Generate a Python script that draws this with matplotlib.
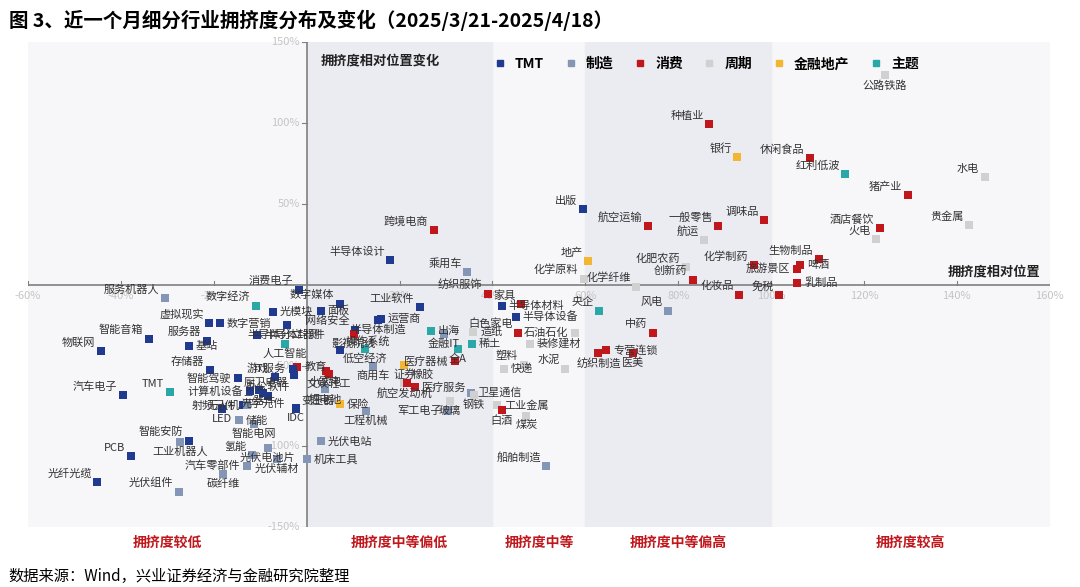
import matplotlib
matplotlib.use("Agg")
import matplotlib.pyplot as plt
from matplotlib.lines import Line2D

plt.rcParams["font.family"] = ["Noto Sans CJK SC", "DejaVu Sans"]

names = ["出版","航空运输","一般零售","调味品","航运","地产","化肥农药","化学制药","啤酒","生物制品",
 "旅游景区","乳制品","免税","化妆品","创新药","化学纤维","化学原料","央企","风电","中药","专营连锁",
 "纺织制造","医美","石油石化","白色家电","水泥","数字媒体","面板","半导体制造","网络安全","影视院线",
 "低空经济","操作系统","工业软件","运营商","金融IT","出海","造纸","全A","稀土","医疗器械","证券","商用车",
 "小家电","文娱轻工","航空发动机","医疗服务","玻璃","军工电子","卫星通信","钢铁","快递","塑料","装修建材",
 "工业金属","白酒","煤炭","船舶制造","保险","工程机械","锂电池","IDC","光伏电站","机床工具","纺织服饰",
 "半导体材料","家具","半导体设备","乘用车","消费电子","服务机器人","数字经济","光模块","半导体分立器件",
 "虚拟现实","半导体封测","服务器","人工智能","智能音箱","基站","物联网","教育","IT服务","游戏","存储器",
 "TMT","汽车电子","计算机设备","元器件","光学元件","厨卫电器","智能驾驶","射频元件","无人机","LED","变压器",
 "智能电网","储能","光伏电池片","氢能","光伏辅材","汽车零部件","工业机器人","智能安防","PCB","光纤光缆",
 "碳纤维","光伏组件","跨境电商","半导体设计","种植业","银行","休闲食品","红利低波","公路铁路","水电",
 "猪产业","酒店餐饮","火电","贵金属","数字营销","办公软件","橡胶"]
xs = [59.4,73.5,88.6,98.5,85.6,60.6,81.7,96.3,106.2,110.3,
 105.6,105.6,101.7,93.1,83.2,71.0,59.6,63.0,77.8,74.6,64.5,
 62.8,70.3,57.8,45.6,55.7,7.1,3.0,15.3,10.5,10.1,
 12.5,7.1,24.3,16.0,29.5,26.7,35.9,32.5,35.5,32.0,21.0,14.2,
 4.1,4.7,21.0,23.4,30.8,30.5,35.3,36.0,42.4,46.7,48.0,
 41.0,42.0,47.3,51.6,7.1,12.7,4.0,-2.4,3.0,0.0,39.0,
 42.0,46.2,45.0,34.6,-1.7,-30.5,-11.0,-7.3,-4.3,
 -21.0,-10.7,-21.5,-4.7,-34.0,-25.4,-44.3,-2.0,-3.0,-6.9,-20.9,
 -29.5,-39.6,-12.3,-10.3,-9.5,-2.8,-14.8,-13.8,-12.8,-18.3,-2.4,
 -11.4,-14.6,-8.4,-11.8,-6.5,-12.9,-27.3,-25.4,-37.8,-45.1,
 -18.0,-27.5,27.3,18.0,86.7,92.7,108.4,116.0,124.5,146.0,
 129.5,123.4,122.6,142.6,-18.7,-8.4,21.5]
ys = [46.9,36.4,36.4,40.0,27.8,14.8,11.1,12.3,12.3,16.0,
 9.9,1.2,-6.2,-6.2,3.1,-1.2,3.7,-16.0,-16.0,-29.6,-40.7,
 -42.0,-42.0,-29.6,-29.6,-51.9,-11.7,-16.0,-21.6,-27.8,-30.2,
 -39.5,-40.7,-13.6,-21.0,-30.2,-28.4,-29.0,-40.0,-36.4,-47.5,-49.4,-50.0,
 -53.7,-55.0,-61.0,-63.6,-72.0,-78.0,-67.0,-68.0,-52.0,-49.4,-36.4,
 -74.7,-77.8,-81.0,-112.0,-74.0,-78.0,-64.8,-76.5,-97.0,-108.0,-5.5,
 -13.0,-11.7,-19.7,8.0,-3.0,-8.0,-13.0,-16.7,-24.7,
 -23.5,-31.0,-34.6,-36.4,-33.3,-38.0,-41.0,-51.0,-52.0,-57.0,-53.0,
 -66.7,-68.5,-66.0,-65.4,-67.3,-56.0,-58.0,-74.7,-74.7,-77.0,-77.0,
 -86.0,-84.0,-101.0,-105.6,-108.0,-112.0,-97.5,-96.5,-106.0,-122.0,
 -117.0,-128.0,34.0,15.0,99.4,79.0,78.4,68.5,129.6,66.7,
 55.5,35.0,28.4,37.0,-24.0,-69.0,-61.0]
groups = ["TMT","消费","消费","消费","周期","金融地产","周期","消费","消费","消费",
 "消费","消费","消费","消费","消费","周期","周期","主题","制造","消费","消费",
 "消费","消费","周期","消费","周期","TMT","TMT","TMT","TMT","消费",
 "主题","TMT","TMT","TMT","制造","主题","周期","主题","主题","消费","金融地产","制造",
 "消费","消费","周期","消费","周期","制造","制造","周期","周期","周期","周期",
 "周期","消费","周期","制造","金融地产","制造","制造","TMT","制造","制造","消费",
 "TMT","消费","TMT","制造","TMT","制造","主题","TMT","TMT",
 "TMT","TMT","TMT","主题","TMT","TMT","TMT","消费","TMT","TMT","TMT",
 "主题","TMT","TMT","TMT","TMT","TMT","TMT","TMT","制造","TMT","TMT",
 "制造","制造","制造","制造","制造","制造","制造","TMT","TMT","TMT",
 "制造","制造","消费","TMT","消费","金融地产","消费","主题","周期","周期",
 "消费","消费","周期","周期","TMT","TMT","消费"]
group_order = ["TMT","制造","消费","周期","金融地产","主题"]
colors = {"TMT":"#1f3a8f","制造":"#8496b6","消费":"#c0171c","周期":"#d0d0d0","金融地产":"#f2b630","主题":"#2aa7a7"}
band_labels = ["拥挤度较低","拥挤度中等偏低","拥挤度中等","拥挤度中等偏高","拥挤度较高"]
band_edges = [-60,0,40,60,100,160]

fig = plt.figure(figsize=(10.8,5.87), dpi=100)
ax = fig.add_axes([0.026,0.102,0.946,0.826])
ax.set_xlim(-60,160); ax.set_ylim(-150,150)
ax.set_facecolor("#f7f7f9")
for i,(a,b) in enumerate(zip(band_edges[:-1],band_edges[1:])):
    if i in (1,3):
        ax.axvspan(a,b,color="#ebebf2",zorder=0)
    ax.text((a+b)/2,-160,band_labels[i],color="#c0171c",fontsize=10,fontweight="bold",ha="center",va="center",clip_on=False)
for s in ax.spines.values(): s.set_visible(False)
ax.axhline(0,color="#808080",lw=1.2,zorder=1)
ax.axvline(0,color="#808080",lw=1.2,zorder=1)
ax.set_xticks([]); ax.set_yticks([])
for t in range(-60,161,20):
    ax.plot([t,t],[0,2.5],color="#808080",lw=0.8,zorder=1)
    if t!=0:
        ax.text(t,-4,f"{t}%",color="#c4c4c4",fontsize=8,ha="center",va="top",zorder=1)
for t in [-150,-100,-50,50,100,150]:
    ax.plot([0,-1],[t,t],color="#808080",lw=0.8)
    ax.text(-1.5,t,f"{t}%",color="#c4c4c4",fontsize=8,ha="right",va="center")

fixed = []
fixed.append(ax.text(3,139,"拥挤度相对位置变化",fontsize=9.5,fontweight="bold",va="center",color="#222222"))
fixed.append(ax.text(158,8,"拥挤度相对位置",fontsize=9.5,fontweight="bold",ha="right",va="center",color="#222222"))
handles=[Line2D([],[],marker="s",ls="",color=colors[g],markersize=5) for g in group_order]
leg = ax.legend(handles,group_order,loc="upper center",bbox_to_anchor=(0.66,0.995),ncol=6,frameon=False,
          prop={"size":10,"weight":"bold"},handletextpad=0.1,columnspacing=0.9)
fig.text(0.008,0.965,"图 3、近一个月细分行业拥挤度分布及变化（2025/3/21-2025/4/18）",fontsize=14,fontweight="bold",va="center")
fig.text(0.008,0.018,"数据来源：Wind，兴业证券经济与金融研究院整理",fontsize=11,va="center")

for x,y,g in zip(xs,ys,groups):
    ax.scatter(x,y,marker="s",s=28,color=colors[g],zorder=3,linewidths=0)

# greedy label placement to reduce overlaps
fig.canvas.draw()
r = fig.canvas.get_renderer()
placed = [t.get_window_extent(r) for t in fixed] + [leg.get_window_extent(r)]
cands = [(-1.2,2,"right","bottom"),(1.5,0,"left","center"),(-1.5,0,"right","center"),
         (1.2,2,"left","bottom"),(0,-3,"center","top"),(0,3,"center","bottom"),
         (-1.2,-2,"right","top"),(1.2,-2,"left","top")]
order = sorted(range(len(names)), key=lambda i: -ys[i])
for i in order:
    best=None; bestov=None
    for dx,dy,ha,va in cands:
        t = ax.text(xs[i]+dx,ys[i]+dy,names[i],fontsize=8,color="#333333",ha=ha,va=va,zorder=4)
        bb = t.get_window_extent(r)
        ov = sum(1 for p in placed if bb.overlaps(p))
        if bestov is None or ov<bestov:
            if best is not None: best[0].remove()
            best=(t,bb); bestov=ov
        else:
            t.remove()
        if ov==0: break
    placed.append(best[1])
fig.savefig("out.png",dpi=100)
